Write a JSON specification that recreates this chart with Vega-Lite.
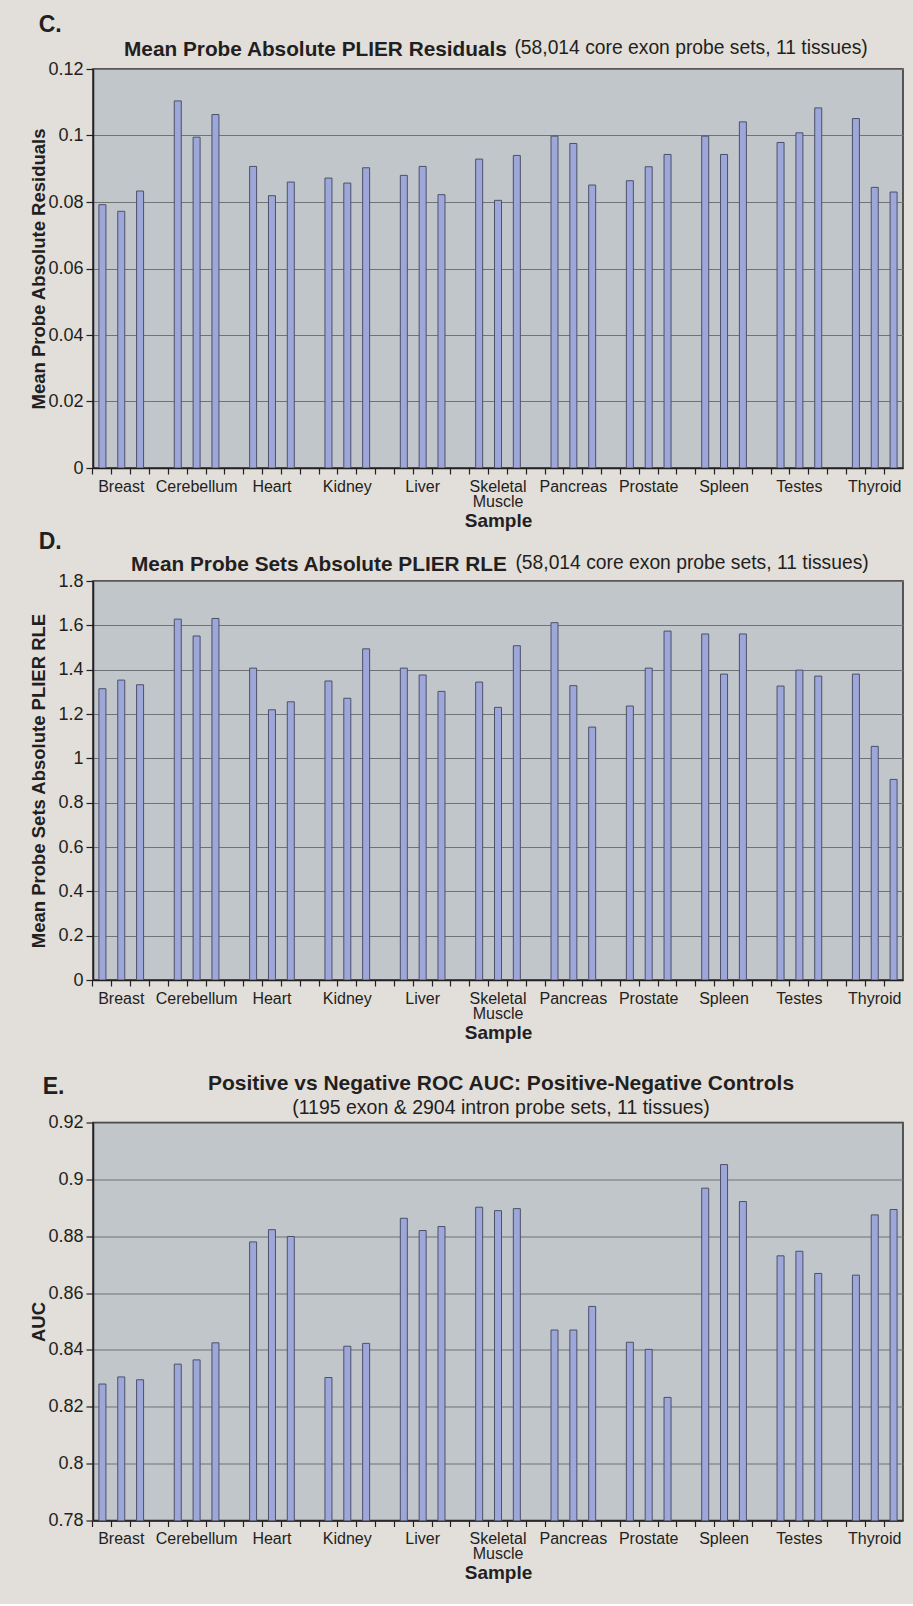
{
  "$schema": "https://vega.github.io/schema/vega-lite/v6.json",
  "background": "#e2deda",
  "padding": {"left": 28, "top": 14, "right": 11, "bottom": 20},
  "config": {
    "font": "Liberation Sans",
    "view": {"fill": "#c1c6cb", "stroke": "#2b2b2b", "strokeWidth": 1.5},
    "axis": {"labelColor": "#231f20", "titleColor": "#231f20", "domainColor": "#231f20", "tickColor": "#231f20", "domainWidth": 1.5, "tickWidth": 1.2, "labelFont": "Liberation Sans", "titleFont": "Liberation Sans"},
    "title": {"color": "#231f20", "font": "Liberation Sans", "subtitleColor": "#231f20", "subtitleFont": "Liberation Sans"}
  },
  "datasets": {
    "resid": [
      {"sample": "Breast-1", "tissue": "Breast", "value": 0.0792},
      {"sample": "Breast-2", "tissue": "Breast", "value": 0.0772},
      {"sample": "Breast-3", "tissue": "Breast", "value": 0.0833},
      {"sample": "Cerebellum-1", "tissue": "Cerebellum", "value": 0.1104},
      {"sample": "Cerebellum-2", "tissue": "Cerebellum", "value": 0.0995},
      {"sample": "Cerebellum-3", "tissue": "Cerebellum", "value": 0.1063},
      {"sample": "Heart-1", "tissue": "Heart", "value": 0.0907},
      {"sample": "Heart-2", "tissue": "Heart", "value": 0.0819},
      {"sample": "Heart-3", "tissue": "Heart", "value": 0.0860},
      {"sample": "Kidney-1", "tissue": "Kidney", "value": 0.0872},
      {"sample": "Kidney-2", "tissue": "Kidney", "value": 0.0857},
      {"sample": "Kidney-3", "tissue": "Kidney", "value": 0.0903},
      {"sample": "Liver-1", "tissue": "Liver", "value": 0.0880},
      {"sample": "Liver-2", "tissue": "Liver", "value": 0.0907},
      {"sample": "Liver-3", "tissue": "Liver", "value": 0.0822},
      {"sample": "Skeletal Muscle-1", "tissue": "Skeletal Muscle", "value": 0.0929},
      {"sample": "Skeletal Muscle-2", "tissue": "Skeletal Muscle", "value": 0.0805},
      {"sample": "Skeletal Muscle-3", "tissue": "Skeletal Muscle", "value": 0.0940},
      {"sample": "Pancreas-1", "tissue": "Pancreas", "value": 0.0998},
      {"sample": "Pancreas-2", "tissue": "Pancreas", "value": 0.0976},
      {"sample": "Pancreas-3", "tissue": "Pancreas", "value": 0.0851},
      {"sample": "Prostate-1", "tissue": "Prostate", "value": 0.0864},
      {"sample": "Prostate-2", "tissue": "Prostate", "value": 0.0906},
      {"sample": "Prostate-3", "tissue": "Prostate", "value": 0.0943},
      {"sample": "Spleen-1", "tissue": "Spleen", "value": 0.0998},
      {"sample": "Spleen-2", "tissue": "Spleen", "value": 0.0943},
      {"sample": "Spleen-3", "tissue": "Spleen", "value": 0.1041},
      {"sample": "Testes-1", "tissue": "Testes", "value": 0.0979},
      {"sample": "Testes-2", "tissue": "Testes", "value": 0.1008},
      {"sample": "Testes-3", "tissue": "Testes", "value": 0.1083},
      {"sample": "Thyroid-1", "tissue": "Thyroid", "value": 0.1051},
      {"sample": "Thyroid-2", "tissue": "Thyroid", "value": 0.0844},
      {"sample": "Thyroid-3", "tissue": "Thyroid", "value": 0.0830}
    ],
    "rle": [
      {"sample": "Breast-1", "tissue": "Breast", "value": 1.314},
      {"sample": "Breast-2", "tissue": "Breast", "value": 1.353},
      {"sample": "Breast-3", "tissue": "Breast", "value": 1.332},
      {"sample": "Cerebellum-1", "tissue": "Cerebellum", "value": 1.628},
      {"sample": "Cerebellum-2", "tissue": "Cerebellum", "value": 1.552},
      {"sample": "Cerebellum-3", "tissue": "Cerebellum", "value": 1.631},
      {"sample": "Heart-1", "tissue": "Heart", "value": 1.407},
      {"sample": "Heart-2", "tissue": "Heart", "value": 1.219},
      {"sample": "Heart-3", "tissue": "Heart", "value": 1.255},
      {"sample": "Kidney-1", "tissue": "Kidney", "value": 1.349},
      {"sample": "Kidney-2", "tissue": "Kidney", "value": 1.271},
      {"sample": "Kidney-3", "tissue": "Kidney", "value": 1.494},
      {"sample": "Liver-1", "tissue": "Liver", "value": 1.407},
      {"sample": "Liver-2", "tissue": "Liver", "value": 1.376},
      {"sample": "Liver-3", "tissue": "Liver", "value": 1.302},
      {"sample": "Skeletal Muscle-1", "tissue": "Skeletal Muscle", "value": 1.344},
      {"sample": "Skeletal Muscle-2", "tissue": "Skeletal Muscle", "value": 1.230},
      {"sample": "Skeletal Muscle-3", "tissue": "Skeletal Muscle", "value": 1.508},
      {"sample": "Pancreas-1", "tissue": "Pancreas", "value": 1.612},
      {"sample": "Pancreas-2", "tissue": "Pancreas", "value": 1.328},
      {"sample": "Pancreas-3", "tissue": "Pancreas", "value": 1.141},
      {"sample": "Prostate-1", "tissue": "Prostate", "value": 1.236},
      {"sample": "Prostate-2", "tissue": "Prostate", "value": 1.407},
      {"sample": "Prostate-3", "tissue": "Prostate", "value": 1.574},
      {"sample": "Spleen-1", "tissue": "Spleen", "value": 1.561},
      {"sample": "Spleen-2", "tissue": "Spleen", "value": 1.380},
      {"sample": "Spleen-3", "tissue": "Spleen", "value": 1.561},
      {"sample": "Testes-1", "tissue": "Testes", "value": 1.326},
      {"sample": "Testes-2", "tissue": "Testes", "value": 1.398},
      {"sample": "Testes-3", "tissue": "Testes", "value": 1.371},
      {"sample": "Thyroid-1", "tissue": "Thyroid", "value": 1.380},
      {"sample": "Thyroid-2", "tissue": "Thyroid", "value": 1.054},
      {"sample": "Thyroid-3", "tissue": "Thyroid", "value": 0.905}
    ],
    "auc": [
      {"sample": "Breast-1", "tissue": "Breast", "value": 0.8280},
      {"sample": "Breast-2", "tissue": "Breast", "value": 0.8305},
      {"sample": "Breast-3", "tissue": "Breast", "value": 0.8295},
      {"sample": "Cerebellum-1", "tissue": "Cerebellum", "value": 0.8350},
      {"sample": "Cerebellum-2", "tissue": "Cerebellum", "value": 0.8365},
      {"sample": "Cerebellum-3", "tissue": "Cerebellum", "value": 0.8425},
      {"sample": "Heart-1", "tissue": "Heart", "value": 0.8780},
      {"sample": "Heart-2", "tissue": "Heart", "value": 0.8823},
      {"sample": "Heart-3", "tissue": "Heart", "value": 0.8799},
      {"sample": "Kidney-1", "tissue": "Kidney", "value": 0.8303},
      {"sample": "Kidney-2", "tissue": "Kidney", "value": 0.8413},
      {"sample": "Kidney-3", "tissue": "Kidney", "value": 0.8423},
      {"sample": "Liver-1", "tissue": "Liver", "value": 0.8863},
      {"sample": "Liver-2", "tissue": "Liver", "value": 0.8820},
      {"sample": "Liver-3", "tissue": "Liver", "value": 0.8834},
      {"sample": "Skeletal Muscle-1", "tissue": "Skeletal Muscle", "value": 0.8902},
      {"sample": "Skeletal Muscle-2", "tissue": "Skeletal Muscle", "value": 0.8890},
      {"sample": "Skeletal Muscle-3", "tissue": "Skeletal Muscle", "value": 0.8897},
      {"sample": "Pancreas-1", "tissue": "Pancreas", "value": 0.8470},
      {"sample": "Pancreas-2", "tissue": "Pancreas", "value": 0.8470},
      {"sample": "Pancreas-3", "tissue": "Pancreas", "value": 0.8553},
      {"sample": "Prostate-1", "tissue": "Prostate", "value": 0.8427},
      {"sample": "Prostate-2", "tissue": "Prostate", "value": 0.8402},
      {"sample": "Prostate-3", "tissue": "Prostate", "value": 0.8233},
      {"sample": "Spleen-1", "tissue": "Spleen", "value": 0.8969},
      {"sample": "Spleen-2", "tissue": "Spleen", "value": 0.9052},
      {"sample": "Spleen-3", "tissue": "Spleen", "value": 0.8922},
      {"sample": "Testes-1", "tissue": "Testes", "value": 0.8731},
      {"sample": "Testes-2", "tissue": "Testes", "value": 0.8747},
      {"sample": "Testes-3", "tissue": "Testes", "value": 0.8669},
      {"sample": "Thyroid-1", "tissue": "Thyroid", "value": 0.8663},
      {"sample": "Thyroid-2", "tissue": "Thyroid", "value": 0.8875},
      {"sample": "Thyroid-3", "tissue": "Thyroid", "value": 0.8894}
    ]
  },
  "spacing": 28.5,
  "vconcat": [
    {
      "spacing": 0,
      "vconcat": [
        {
          "title": {"text": "C.", "anchor": "start", "frame": "bounds", "fontSize": 23, "fontWeight": "bold", "offset": 1, "dx": 10.5},
          "vconcat": [
            {
              "title": {"text": "(58,014 core exon probe sets, 11 tissues)", "anchor": "end", "frame": "bounds", "fontSize": 19.3, "fontWeight": "normal", "offset": 0, "dx": -36, "dy": 20.3},
              "vconcat": [
                {
                  "title": {"text": "Mean Probe Absolute PLIER Residuals", "anchor": "start", "frame": "group", "fontSize": 20.8, "fontWeight": "bold", "offset": -1, "dx": 31},
                  "width": 810,
                  "height": 399,
                  "data": {"name": "resid"},
                  "mark": {"type": "bar", "width": 7, "fill": "#9ea7d9", "stroke": "#4c5068", "strokeWidth": 1, "clip": true},
                  "encoding": {
                    "x": {
                      "field": "sample", "type": "nominal",
                      "scale": {"type": "band", "paddingInner": 0, "paddingOuter": 0, "domain": ["Breast-1","Breast-2","Breast-3","Breast-g","Cerebellum-1","Cerebellum-2","Cerebellum-3","Cerebellum-g","Heart-1","Heart-2","Heart-3","Heart-g","Kidney-1","Kidney-2","Kidney-3","Kidney-g","Liver-1","Liver-2","Liver-3","Liver-g","Skeletal Muscle-1","Skeletal Muscle-2","Skeletal Muscle-3","Skeletal Muscle-g","Pancreas-1","Pancreas-2","Pancreas-3","Pancreas-g","Prostate-1","Prostate-2","Prostate-3","Prostate-g","Spleen-1","Spleen-2","Spleen-3","Spleen-g","Testes-1","Testes-2","Testes-3","Testes-g","Thyroid-1","Thyroid-2","Thyroid-3"]},
                      "axis": {"title": "Sample", "bandPosition": 0, "labelOffset": 0, "labelAngle": 0, "labelFontSize": 16, "labelLineHeight": 15, "labelOverlap": false, "labelBound": false, "labelFlush": false, "tickSize": 6, "labelPadding": 4, "titleFontSize": 19, "titleFontWeight": "bold", "titlePadding": 2, "grid": false,
                        "labelExpr": "slice(datum.value, -2) == '-2' ? (datum.value == 'Skeletal Muscle-2' ? ['Skeletal', 'Muscle'] : slice(datum.value, 0, -2)) : ''"}
                    },
                    "y": {
                      "field": "value", "type": "quantitative",
                      "scale": {"domain": [0, 0.12], "nice": false},
                      "axis": {"title": "Mean Probe Absolute Residuals", "values": [0, 0.02, 0.04, 0.06, 0.08, 0.1, 0.12], "labelExpr": "format(datum.value, '.6~g')", "grid": true, "gridColor": "#6f7378", "gridWidth": 1.2, "tickSize": 7, "labelPadding": 3, "labelFontSize": 18, "titleFontSize": 18.5, "titleFontWeight": "bold", "titlePadding": 0, "minExtent": 45, "maxExtent": 45}
                    }
                  }
                }
              ]
            }
          ]
        },
        {
          "title": {"text": "D.", "anchor": "start", "frame": "bounds", "fontSize": 23, "fontWeight": "bold", "offset": -1, "dx": 10.5},
          "vconcat": [
            {
              "title": {"text": "(58,014 core exon probe sets, 11 tissues)", "anchor": "end", "frame": "bounds", "fontSize": 19.3, "fontWeight": "normal", "offset": 0, "dx": -35, "dy": 20.3},
              "vconcat": [
                {
                  "title": {"text": "Mean Probe Sets Absolute PLIER RLE", "anchor": "start", "frame": "group", "fontSize": 20.8, "fontWeight": "bold", "offset": -4, "dx": 38},
                  "width": 810,
                  "height": 399,
                  "data": {"name": "rle"},
                  "mark": {"type": "bar", "width": 7, "fill": "#9ea7d9", "stroke": "#4c5068", "strokeWidth": 1, "clip": true},
                  "encoding": {
                    "x": {
                      "field": "sample", "type": "nominal",
                      "scale": {"type": "band", "paddingInner": 0, "paddingOuter": 0, "domain": ["Breast-1","Breast-2","Breast-3","Breast-g","Cerebellum-1","Cerebellum-2","Cerebellum-3","Cerebellum-g","Heart-1","Heart-2","Heart-3","Heart-g","Kidney-1","Kidney-2","Kidney-3","Kidney-g","Liver-1","Liver-2","Liver-3","Liver-g","Skeletal Muscle-1","Skeletal Muscle-2","Skeletal Muscle-3","Skeletal Muscle-g","Pancreas-1","Pancreas-2","Pancreas-3","Pancreas-g","Prostate-1","Prostate-2","Prostate-3","Prostate-g","Spleen-1","Spleen-2","Spleen-3","Spleen-g","Testes-1","Testes-2","Testes-3","Testes-g","Thyroid-1","Thyroid-2","Thyroid-3"]},
                      "axis": {"title": "Sample", "bandPosition": 0, "labelOffset": 0, "labelAngle": 0, "labelFontSize": 16, "labelLineHeight": 15, "labelOverlap": false, "labelBound": false, "labelFlush": false, "tickSize": 6, "labelPadding": 4, "titleFontSize": 19, "titleFontWeight": "bold", "titlePadding": 2, "grid": false,
                        "labelExpr": "slice(datum.value, -2) == '-2' ? (datum.value == 'Skeletal Muscle-2' ? ['Skeletal', 'Muscle'] : slice(datum.value, 0, -2)) : ''"}
                    },
                    "y": {
                      "field": "value", "type": "quantitative",
                      "scale": {"domain": [0, 1.8], "nice": false},
                      "axis": {"title": "Mean Probe Sets Absolute PLIER RLE", "values": [0, 0.2, 0.4, 0.6, 0.8, 1, 1.2, 1.4, 1.6, 1.8], "labelExpr": "format(datum.value, '.6~g')", "grid": true, "gridColor": "#6f7378", "gridWidth": 1.2, "tickSize": 7, "labelPadding": 3, "labelFontSize": 18, "titleFontSize": 18.5, "titleFontWeight": "bold", "titlePadding": 0, "minExtent": 45, "maxExtent": 45}
                    }
                  }
                }
              ]
            }
          ]
        }
      ]
    },
    {
      "title": {"text": "E.", "anchor": "start", "frame": "bounds", "fontSize": 23, "fontWeight": "bold", "offset": 0, "dx": 14.5, "dy": 26.4},
      "vconcat": [
        {
          "title": {"text": "Positive vs Negative ROC AUC: Positive-Negative Controls", "subtitle": "(1195 exon & 2904 intron probe sets, 11 tissues)", "anchor": "middle", "frame": "group", "fontSize": 21, "fontWeight": "bold", "subtitleFontSize": 19.5, "subtitleFontWeight": "normal", "subtitlePadding": 4.5, "offset": -3.5, "dx": 3},
          "width": 810,
          "height": 398,
          "data": {"name": "auc"},
          "mark": {"type": "bar", "width": 7, "fill": "#9ea7d9", "stroke": "#4c5068", "strokeWidth": 1, "clip": true},
          "encoding": {
            "x": {
              "field": "sample", "type": "nominal",
              "scale": {"type": "band", "paddingInner": 0, "paddingOuter": 0, "domain": ["Breast-1","Breast-2","Breast-3","Breast-g","Cerebellum-1","Cerebellum-2","Cerebellum-3","Cerebellum-g","Heart-1","Heart-2","Heart-3","Heart-g","Kidney-1","Kidney-2","Kidney-3","Kidney-g","Liver-1","Liver-2","Liver-3","Liver-g","Skeletal Muscle-1","Skeletal Muscle-2","Skeletal Muscle-3","Skeletal Muscle-g","Pancreas-1","Pancreas-2","Pancreas-3","Pancreas-g","Prostate-1","Prostate-2","Prostate-3","Prostate-g","Spleen-1","Spleen-2","Spleen-3","Spleen-g","Testes-1","Testes-2","Testes-3","Testes-g","Thyroid-1","Thyroid-2","Thyroid-3"]},
              "axis": {"title": "Sample", "bandPosition": 0, "labelOffset": 0, "labelAngle": 0, "labelFontSize": 16, "labelLineHeight": 15, "labelOverlap": false, "labelBound": false, "labelFlush": false, "tickSize": 6, "labelPadding": 4, "titleFontSize": 19, "titleFontWeight": "bold", "titlePadding": 2, "grid": false,
                "labelExpr": "slice(datum.value, -2) == '-2' ? (datum.value == 'Skeletal Muscle-2' ? ['Skeletal', 'Muscle'] : slice(datum.value, 0, -2)) : ''"}
            },
            "y": {
              "field": "value", "type": "quantitative",
              "scale": {"domain": [0.78, 0.92], "nice": false, "zero": false},
              "axis": {"title": "AUC", "values": [0.78, 0.8, 0.82, 0.84, 0.86, 0.88, 0.9, 0.92], "labelExpr": "format(datum.value, '.6~g')", "grid": true, "gridColor": "#6f7378", "gridWidth": 1.2, "tickSize": 7, "labelPadding": 3, "labelFontSize": 18, "titleFontSize": 18.5, "titleFontWeight": "bold", "titlePadding": 0, "minExtent": 45, "maxExtent": 45}
            }
          }
        }
      ]
    }
  ]
}
